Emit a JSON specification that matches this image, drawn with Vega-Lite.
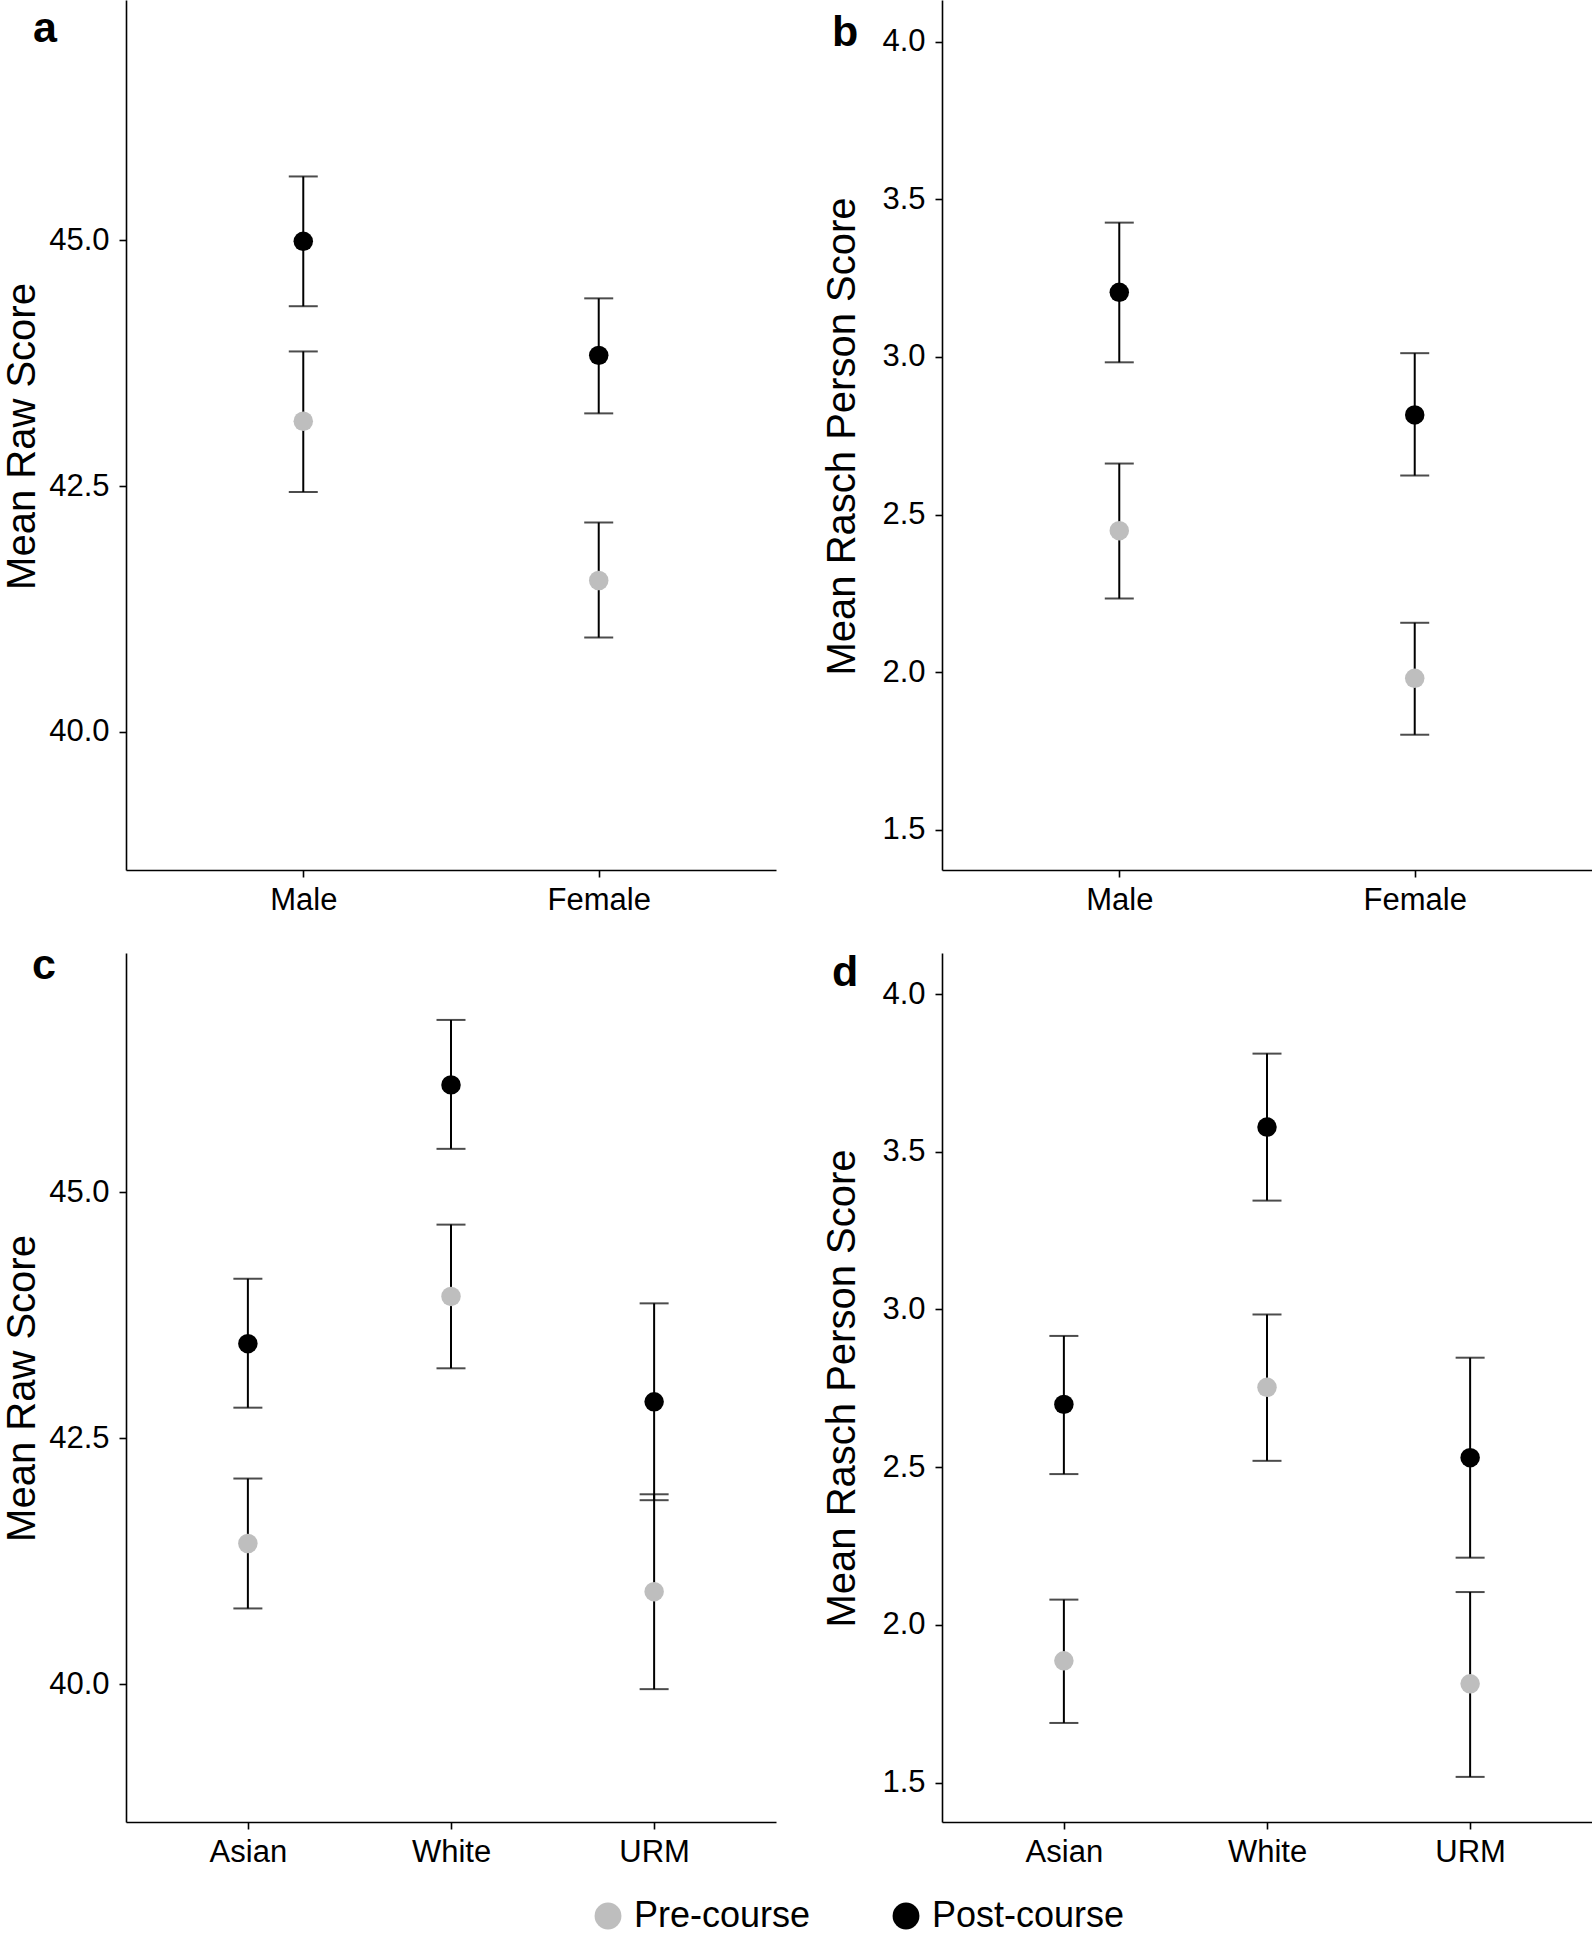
{
  "$schema": "https://vega.github.io/schema/vega-lite/v6.json",
  "background": "white",
  "padding": {"left": 2, "top": 0, "right": 0, "bottom": 0},
  "bounds": "flush",
  "columns": 2,
  "spacing": {"row": 83, "column": 166},
  "resolve": {"scale": {"x": "independent", "y": "independent", "color": "shared"}, "axis": {"x": "independent", "y": "independent"}, "legend": {"color": "shared"}},
  "config": {
    "font": "Liberation Sans",
    "view": {"stroke": null},
    "axis": {
      "grid": false,
      "domainColor": "#000000",
      "domainWidth": 1.6,
      "tickColor": "#000000",
      "tickWidth": 1.6,
      "tickSize": 7,
      "labelColor": "#000000",
      "labelFont": "Liberation Sans",
      "labelFontSize": 31,
      "labelPadding": 10,
      "titleColor": "#000000",
      "titleFont": "Liberation Sans",
      "titleFontSize": 40,
      "titleFontWeight": "normal"
    },
    "axisX": {"labelPadding": 8},
    "title": {"font": "Liberation Sans", "fontSize": 43, "fontWeight": "bold", "color": "#000000", "anchor": "start", "frame": "group", "offset": 0, "baseline": "alphabetic"}
  },
  "datasets": {
    "scores": [
      {"panel": "a", "group": "Male", "time": "Pre-course", "mean": 43.16, "lo": 42.44, "hi": 43.87},
      {"panel": "a", "group": "Male", "time": "Post-course", "mean": 44.99, "lo": 44.33, "hi": 45.65},
      {"panel": "a", "group": "Female", "time": "Pre-course", "mean": 41.54, "lo": 40.96, "hi": 42.13},
      {"panel": "a", "group": "Female", "time": "Post-course", "mean": 43.83, "lo": 43.24, "hi": 44.41},
      {"panel": "b", "group": "Male", "time": "Pre-course", "mean": 2.449, "lo": 2.234, "hi": 2.662},
      {"panel": "b", "group": "Male", "time": "Post-course", "mean": 3.205, "lo": 2.983, "hi": 3.426},
      {"panel": "b", "group": "Female", "time": "Pre-course", "mean": 1.981, "lo": 1.802, "hi": 2.157},
      {"panel": "b", "group": "Female", "time": "Post-course", "mean": 2.816, "lo": 2.624, "hi": 3.012},
      {"panel": "c", "group": "Asian", "time": "Pre-course", "mean": 41.43, "lo": 40.77, "hi": 42.09},
      {"panel": "c", "group": "Asian", "time": "Post-course", "mean": 43.46, "lo": 42.81, "hi": 44.12},
      {"panel": "c", "group": "White", "time": "Pre-course", "mean": 43.94, "lo": 43.21, "hi": 44.67},
      {"panel": "c", "group": "White", "time": "Post-course", "mean": 46.09, "lo": 45.44, "hi": 46.75},
      {"panel": "c", "group": "URM", "time": "Pre-course", "mean": 40.94, "lo": 39.95, "hi": 41.93},
      {"panel": "c", "group": "URM", "time": "Post-course", "mean": 42.87, "lo": 41.87, "hi": 43.87},
      {"panel": "d", "group": "Asian", "time": "Pre-course", "mean": 1.886, "lo": 1.689, "hi": 2.08},
      {"panel": "d", "group": "Asian", "time": "Post-course", "mean": 2.699, "lo": 2.478, "hi": 2.916},
      {"panel": "d", "group": "White", "time": "Pre-course", "mean": 2.753, "lo": 2.52, "hi": 2.984},
      {"panel": "d", "group": "White", "time": "Post-course", "mean": 3.578, "lo": 3.345, "hi": 3.811},
      {"panel": "d", "group": "URM", "time": "Pre-course", "mean": 1.813, "lo": 1.518, "hi": 2.104},
      {"panel": "d", "group": "URM", "time": "Post-course", "mean": 2.53, "lo": 2.213, "hi": 2.847}
    ]
  },
  "concat": [
    {
      "width": 650, "height": 870,
      "title": {"text": "a", "dx": -93, "dy": 55},
      "data": {"name": "scores"},
      "transform": [{"filter": "datum.panel === 'a'"}],
      "encoding": {
        "x": {"field": "group", "type": "nominal", "scale": {"type": "point", "padding": 0.6, "domain": ["Male", "Female"]}, "axis": {"title": null, "labelAngle": 0}}
      },
      "layer": [
        {"mark": {"type": "rule", "color": "#000000", "strokeWidth": 2},
         "encoding": {"y": {"field": "lo", "type": "quantitative", "title": "Mean Raw Score", "scale": {"domain": [38.595, 47.445], "nice": false, "zero": false}, "axis": {"values": [40, 42.5, 45], "format": ".1f", "titleX": -92, "titleY": 436, "titleBaseline": "alphabetic", "titleAngle": 270}}, "y2": {"field": "hi"}}},
        {"mark": {"type": "tick", "orient": "horizontal", "size": 29, "thickness": 2, "color": "#000000"},
         "encoding": {"y": {"field": "lo", "type": "quantitative", "title": "Mean Raw Score"}}},
        {"mark": {"type": "tick", "orient": "horizontal", "size": 29, "thickness": 2, "color": "#000000"},
         "encoding": {"y": {"field": "hi", "type": "quantitative", "title": "Mean Raw Score"}}},
        {"mark": {"type": "point", "filled": true, "size": 380, "opacity": 1},
         "encoding": {
           "y": {"field": "mean", "type": "quantitative", "title": "Mean Raw Score"},
           "color": {"field": "time", "type": "nominal", "scale": {"domain": ["Pre-course", "Post-course"], "range": ["#BEBEBE", "#000000"]},
             "legend": {"orient": "none", "legendX": 464, "legendY": 1898, "direction": "horizontal", "title": null, "symbolType": "circle", "symbolSize": 720, "symbolStrokeWidth": 0, "symbolOpacity": 1, "labelFontSize": 36, "labelFont": "Liberation Sans", "labelColor": "#000000", "labelOffset": 8, "labelLimit": 500, "columnPadding": 77, "padding": 0}}
         }}
      ]
    },
    {
      "width": 650, "height": 870,
      "title": {"text": "b", "dx": -110, "dy": 59},
      "data": {"name": "scores"},
      "transform": [{"filter": "datum.panel === 'b'"}],
      "encoding": {
        "x": {"field": "group", "type": "nominal", "scale": {"type": "point", "padding": 0.6, "domain": ["Male", "Female"]}, "axis": {"title": null, "labelAngle": 0}}
      },
      "layer": [
        {"mark": {"type": "rule", "color": "#000000", "strokeWidth": 2},
         "encoding": {"y": {"field": "lo", "type": "quantitative", "title": "Mean Rasch Person Score", "scale": {"domain": [1.373, 4.132], "nice": false, "zero": false}, "axis": {"values": [1.5, 2, 2.5, 3, 3.5, 4], "format": ".1f", "titleX": -88, "titleY": 436, "titleBaseline": "alphabetic", "titleAngle": 270}}, "y2": {"field": "hi"}}},
        {"mark": {"type": "tick", "orient": "horizontal", "size": 29, "thickness": 2, "color": "#000000"},
         "encoding": {"y": {"field": "lo", "type": "quantitative", "title": "Mean Rasch Person Score"}}},
        {"mark": {"type": "tick", "orient": "horizontal", "size": 29, "thickness": 2, "color": "#000000"},
         "encoding": {"y": {"field": "hi", "type": "quantitative", "title": "Mean Rasch Person Score"}}},
        {"mark": {"type": "point", "filled": true, "size": 380, "opacity": 1},
         "encoding": {
           "y": {"field": "mean", "type": "quantitative", "title": "Mean Rasch Person Score"},
           "color": {"field": "time", "type": "nominal"}
         }}
      ]
    },
    {
      "width": 650, "height": 869,
      "title": {"text": "c", "dx": -94, "dy": 39},
      "data": {"name": "scores"},
      "transform": [{"filter": "datum.panel === 'c'"}],
      "encoding": {
        "x": {"field": "group", "type": "nominal", "scale": {"type": "point", "padding": 0.6, "domain": ["Asian", "White", "URM"]}, "axis": {"title": null, "labelAngle": 0}}
      },
      "layer": [
        {"mark": {"type": "rule", "color": "#000000", "strokeWidth": 2},
         "encoding": {"y": {"field": "lo", "type": "quantitative", "title": "Mean Raw Score", "scale": {"domain": [38.6, 47.43], "nice": false, "zero": false}, "axis": {"values": [40, 42.5, 45], "format": ".1f", "titleX": -92, "titleY": 435, "titleBaseline": "alphabetic", "titleAngle": 270}}, "y2": {"field": "hi"}}},
        {"mark": {"type": "tick", "orient": "horizontal", "size": 29, "thickness": 2, "color": "#000000"},
         "encoding": {"y": {"field": "lo", "type": "quantitative", "title": "Mean Raw Score"}}},
        {"mark": {"type": "tick", "orient": "horizontal", "size": 29, "thickness": 2, "color": "#000000"},
         "encoding": {"y": {"field": "hi", "type": "quantitative", "title": "Mean Raw Score"}}},
        {"mark": {"type": "point", "filled": true, "size": 380, "opacity": 1},
         "encoding": {
           "y": {"field": "mean", "type": "quantitative", "title": "Mean Raw Score"},
           "color": {"field": "time", "type": "nominal"}
         }}
      ]
    },
    {
      "width": 650, "height": 869,
      "title": {"text": "d", "dx": -110, "dy": 46},
      "data": {"name": "scores"},
      "transform": [{"filter": "datum.panel === 'd'"}],
      "encoding": {
        "x": {"field": "group", "type": "nominal", "scale": {"type": "point", "padding": 0.6, "domain": ["Asian", "White", "URM"]}, "axis": {"title": null, "labelAngle": 0}}
      },
      "layer": [
        {"mark": {"type": "rule", "color": "#000000", "strokeWidth": 2},
         "encoding": {"y": {"field": "lo", "type": "quantitative", "title": "Mean Rasch Person Score", "scale": {"domain": [1.375, 4.13], "nice": false, "zero": false}, "axis": {"values": [1.5, 2, 2.5, 3, 3.5, 4], "format": ".1f", "titleX": -88, "titleY": 435, "titleBaseline": "alphabetic", "titleAngle": 270}}, "y2": {"field": "hi"}}},
        {"mark": {"type": "tick", "orient": "horizontal", "size": 29, "thickness": 2, "color": "#000000"},
         "encoding": {"y": {"field": "lo", "type": "quantitative", "title": "Mean Rasch Person Score"}}},
        {"mark": {"type": "tick", "orient": "horizontal", "size": 29, "thickness": 2, "color": "#000000"},
         "encoding": {"y": {"field": "hi", "type": "quantitative", "title": "Mean Rasch Person Score"}}},
        {"mark": {"type": "point", "filled": true, "size": 380, "opacity": 1},
         "encoding": {
           "y": {"field": "mean", "type": "quantitative", "title": "Mean Rasch Person Score"},
           "color": {"field": "time", "type": "nominal"}
         }}
      ]
    }
  ]
}
